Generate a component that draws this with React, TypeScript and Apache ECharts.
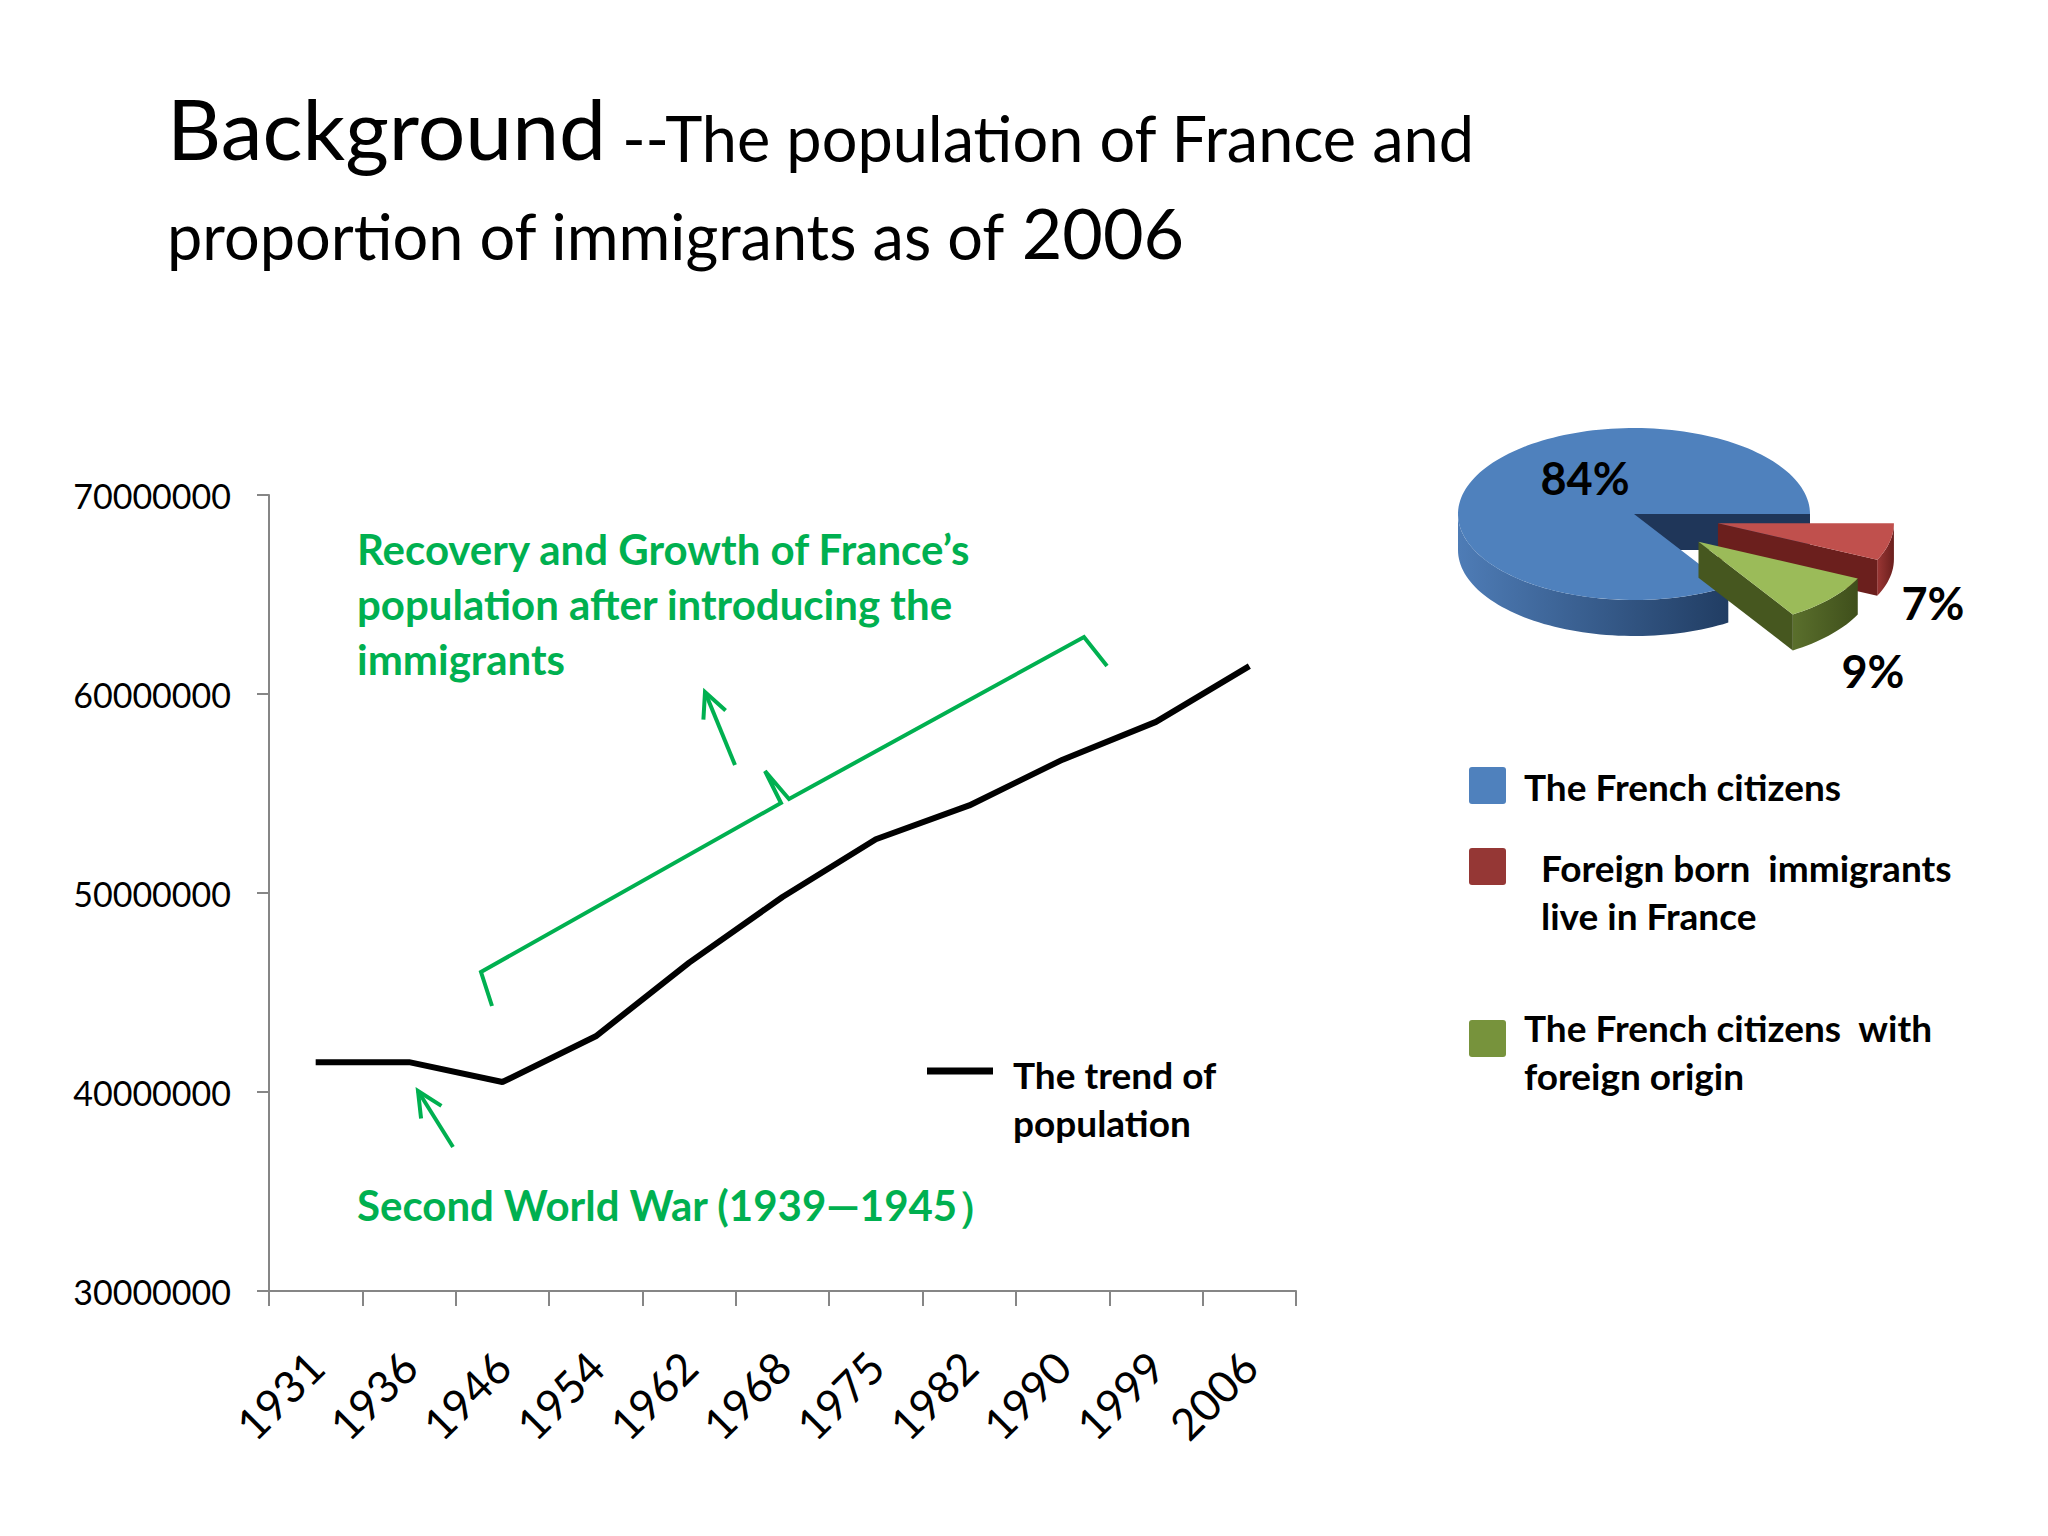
import { useEffect, useRef } from "react";
import * as echarts from "echarts";

// census years and population of France
const years = ["1931", "1936", "1946", "1954", "1962", "1968", "1975", "1982", "1990", "1999", "2006"];
const population = [
  41500000, 41500000, 40500000, 42800000, 46500000, 49800000,
  52700000, 54400000, 56700000, 58600000, 61400000,
];

// composition of the population in 2006
const pieNames = [
  "The French citizens",
  "Foreign born  immigrants\nlive in France",
  "The French citizens  with\nforeign origin",
];
const pieShares = [84, 7, 9];
const pieColors = ["#4f81bd", "#c0504d", "#9bbb59"];
const pieLegendColors = ["#4f81bd", "#953735", "#77933c"];
const pieWallColors = [
  ["#4e7cb6", "#213d63"],
  ["#9a3634", "#6a1f1d"],
  ["#5a6f2c", "#3f4f1b"],
];
const pieCutColors = ["#1f3659", "#6b1f1d", "#46571f"];

const GREEN = "#00b050";
const FONT = "Lato";

// 3d pie layout (pixels)
const PIE = { cx: 1634, cy: 514, rx: 176, ry: 86, depth: 36, explode: 86 };
const pieLabelOffset = [[-49, -36], [299, 89], [239, 157]];

const rad = (d: number) => (d * Math.PI) / 180;

function arrowHead(tail: number[], tip: number[], len = 25, half = 12) {
  const dx = tip[0] - tail[0];
  const dy = tip[1] - tail[1];
  const l = Math.hypot(dx, dy);
  const ux = dx / l, uy = dy / l;
  const bx = tip[0] - ux * len, by = tip[1] - uy * len;
  return [[bx - uy * half, by + ux * half], tip, [bx + uy * half, by - ux * half]];
}

function renderPieSlice(params: any, api: any) {
  const i = params.dataIndex;
  const total = pieShares.reduce((a, b) => a + b, 0);
  let start = 360 * (1 - pieShares[0] / total);
  for (let k = 0; k < i; k++) start += (360 * pieShares[k]) / total;
  let end = start + (360 * api.value(0)) / total;
  if (start >= 360) {
    start -= 360;
    end -= 360;
  }
  const mid = rad((start + end) / 2);
  const off = i === 0 ? 0 : PIE.explode;
  const ox = PIE.cx + off * Math.cos(mid);
  const oy = PIE.cy + off * (PIE.ry / PIE.rx) * Math.sin(mid);
  const pt = (deg: number, dy: number) => [
    ox + PIE.rx * Math.cos(rad(deg)),
    oy + PIE.ry * Math.sin(rad(deg)) + dy,
  ];
  const arc = (a: number, b: number, dy: number) => {
    const pts: number[][] = [];
    const n = Math.max(2, Math.ceil((b - a) / 2));
    for (let k = 0; k <= n; k++) pts.push(pt(a + ((b - a) * k) / n, dy));
    return pts;
  };
  const children: any[] = [];

  // front part of the outer wall
  const wa = Math.max(start, 0);
  const wb = Math.min(end, 180);
  if (wb > wa) {
    children.push({
      type: "polygon",
      shape: { points: [...arc(wa, wb, 0), ...arc(wa, wb, PIE.depth).reverse()] },
      style: {
        fill: new echarts.graphic.LinearGradient(0, 0, 1, 0, [
          { offset: 0, color: pieWallColors[i][0] },
          { offset: 1, color: pieWallColors[i][1] },
        ]),
      },
    });
  }
  // visible cut faces
  const cut = (deg: number) => ({
    type: "polygon",
    shape: { points: [[ox, oy], pt(deg, 0), pt(deg, PIE.depth), [ox, oy + PIE.depth]] },
    style: { fill: pieCutColors[i] },
  });
  if (Math.cos(rad(end)) > 0) children.push(cut(end));
  if (Math.cos(rad(start)) < 0) children.push(cut(start));

  // top face
  children.push({
    type: "polygon",
    shape: { points: [[ox, oy], ...arc(start, end, 0)] },
    style: { fill: pieColors[i] },
  });

  children.push({
    type: "text",
    x: PIE.cx + pieLabelOffset[i][0],
    y: PIE.cy + pieLabelOffset[i][1],
    style: {
      text: Math.round((api.value(0) / total) * 100) + "%",
      fontSize: 45,
      fontWeight: "bold",
      fontFamily: FONT,
      fill: "#000",
      align: "center",
      verticalAlign: "middle",
    },
  });
  return { type: "group", children };
}

export default function App() {
  const chartRef = useRef<HTMLDivElement>(null);

  useEffect(() => {
    if (!chartRef.current) return;
    document.body.style.margin = "0";
    const chart = echarts.init(chartRef.current, null, { renderer: "svg" });

    const arrow1 = { tail: [735, 765], tip: [705, 692] };
    const arrow2 = { tail: [453, 1147], tip: [418, 1091] };
    const greenLine = { stroke: GREEN, lineWidth: 4, fill: "none" };

    const legendSquares = [767, 848, 1020];
    const legendTexts = [
      { x: 1524, y: 762 },
      { x: 1541, y: 843 },
      { x: 1524, y: 1003 },
    ];

    const option: any = {
      animation: false,
      backgroundColor: "#ffffff",
      textStyle: { fontFamily: FONT },
      grid: { left: 269, top: 495, width: 1027, height: 796 },
      xAxis: {
        type: "category",
        data: years,
        boundaryGap: true,
        axisLine: { lineStyle: { color: "#868686", width: 2 } },
        axisTick: { show: true, interval: 0, length: 15, lineStyle: { color: "#868686", width: 2 } },
        axisLabel: { rotate: 45, fontSize: 44, margin: 68, color: "#000", interval: 0, fontFamily: FONT },
      },
      yAxis: {
        type: "value",
        min: 30000000,
        max: 70000000,
        interval: 10000000,
        axisLine: { show: true, lineStyle: { color: "#868686", width: 2 } },
        axisTick: { show: true, length: 12, lineStyle: { color: "#868686", width: 2 } },
        splitLine: { show: false },
        axisLabel: {
          fontSize: 34,
          margin: 38,
          color: "#000",
          fontFamily: FONT,
          formatter: (v: number) => String(v),
        },
      },
      series: [
        {
          name: "The trend of population",
          type: "line",
          data: population,
          symbol: "none",
          lineStyle: { color: "#000", width: 6 },
          itemStyle: { color: "#000" },
          silent: true,
        },
        {
          name: "Population 2006",
          type: "custom",
          coordinateSystem: "none",
          data: pieShares,
          renderItem: renderPieSlice,
          silent: true,
        },
      ],
      graphic: [
        {
          type: "text",
          x: 167,
          y: 71,
          style: {
            text: "{a|Background}{b| --The population of France and}\n{b|proportion of immigrants as of }{c|2006}",
            fill: "#000",
            verticalAlign: "top",
            rich: {
              a: { fontSize: 84, fontFamily: FONT, lineHeight: 98, verticalAlign: "bottom", fill: "#000" },
              b: { fontSize: 63, fontFamily: FONT, lineHeight: 98, verticalAlign: "bottom", fill: "#000" },
              c: { fontSize: 70, fontFamily: FONT, lineHeight: 98, verticalAlign: "bottom", fill: "#000" },
            },
          },
        },
        // annotations
        {
          type: "text",
          x: 357,
          y: 521,
          style: {
            text: "Recovery and Growth of France\u2019s\npopulation after introducing the\nimmigrants",
            fontSize: 42,
            fontWeight: "bold",
            fontFamily: FONT,
            lineHeight: 55,
            fill: GREEN,
          },
        },
        {
          type: "text",
          x: 357,
          y: 1177,
          style: {
            text: "Second World War (1939\u20141945\uff09",
            fontSize: 42,
            fontWeight: "bold",
            fontFamily: FONT,
            lineHeight: 55,
            fill: GREEN,
          },
        },
        {
          type: "polyline",
          shape: {
            points: [[492, 1006], [481, 972], [781, 803], [765, 771], [789, 799], [1084, 637], [1107, 666]],
          },
          style: greenLine,
        },
        { type: "line", shape: { x1: arrow1.tail[0], y1: arrow1.tail[1], x2: arrow1.tip[0], y2: arrow1.tip[1] }, style: greenLine },
        { type: "polyline", shape: { points: arrowHead(arrow1.tail, arrow1.tip) }, style: greenLine },
        { type: "line", shape: { x1: arrow2.tail[0], y1: arrow2.tail[1], x2: arrow2.tip[0], y2: arrow2.tip[1] }, style: greenLine },
        { type: "polyline", shape: { points: arrowHead(arrow2.tail, arrow2.tip) }, style: greenLine },
        // line legend
        { type: "line", shape: { x1: 927, y1: 1071, x2: 993, y2: 1071 }, style: { stroke: "#000", lineWidth: 7 } },
        {
          type: "text",
          x: 1013,
          y: 1050,
          style: {
            text: "The trend of\npopulation",
            fontSize: 37,
            fontWeight: "bold",
            fontFamily: FONT,
            lineHeight: 48,
            fill: "#000",
          },
        },
        // pie legend
        ...pieNames.flatMap((name, i) => [
          {
            type: "rect",
            shape: { x: 1469, y: legendSquares[i], width: 37, height: 37, r: 3 },
            style: { fill: pieLegendColors[i] },
          },
          {
            type: "text",
            x: legendTexts[i].x,
            y: legendTexts[i].y,
            style: {
              text: name,
              fontSize: 37,
              fontWeight: "bold",
              fontFamily: FONT,
              lineHeight: 48,
              fill: "#000",
            },
          },
        ]),
      ],
    };

    chart.setOption(option);
    return () => chart.dispose();
  }, []);

  return <div ref={chartRef} style={{ width: 2048, height: 1536 }} />;
}
